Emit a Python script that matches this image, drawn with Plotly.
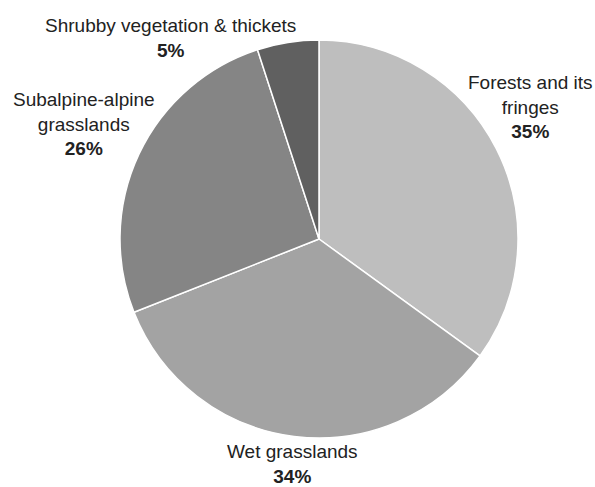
import plotly.graph_objects as go

# Habitat shares (%), clockwise from 12 o'clock
habitats = ["Forests and its fringes", "Wet grasslands",
            "Subalpine-alpine grasslands", "Shrubby vegetation & thickets"]
label_lines = ["Forests and its<br>fringes", "Wet grasslands",
               "Subalpine-alpine<br>grasslands", "Shrubby vegetation & thickets"]
shares = [35, 34, 26, 5]
colors = ["#bebebe", "#a3a3a3", "#858585", "#606060"]

# Label anchor points in pixels (x, y from top) for the outside captions
label_px = [(530, 107), (292, 464), (84, 124), (170, 38)]

W, H = 595, 487
cx, cy, r = 319, 239, 199

fig = go.Figure(go.Pie(
    labels=habitats,
    values=shares,
    sort=False,
    direction="clockwise",
    rotation=0,
    marker=dict(colors=colors, line=dict(color="white", width=1.5)),
    textinfo="none",
    hoverinfo="label+percent",
    showlegend=False,
    domain=dict(x=[(cx - r) / W, (cx + r) / W],
                y=[(H - cy - r) / H, (H - cy + r) / H]),
))

for text, v, (px, py) in zip(label_lines, shares, label_px):
    fig.add_annotation(
        x=px / W, y=1 - py / H, xref="paper", yref="paper",
        xanchor="center", yanchor="middle", showarrow=False,
        text=f"{text}<br><b>{v}%</b>", align="center",
        font=dict(family="Liberation Sans, Arial, sans-serif", size=19, color="#222222"),
    )

fig.update_layout(
    width=W, height=H,
    margin=dict(l=0, r=0, t=0, b=0),
    paper_bgcolor="white", plot_bgcolor="white",
)

fig.write_html("out.html")
